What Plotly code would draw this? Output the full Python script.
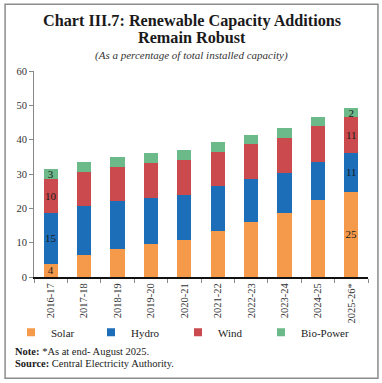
import plotly.graph_objects as go

years = ["2016-17", "2017-18", "2018-19", "2019-20", "2020-21",
         "2021-22", "2022-23", "2023-24", "2024-25", "2025-26*"]
solar = [3.9, 6.3, 8.1, 9.5, 10.7, 13.4, 15.9, 18.5, 22.3, 24.9]
hydro = [14.8, 14.4, 13.9, 13.6, 13.3, 13.0, 12.7, 11.7, 11.1, 11.1]
wind = [9.8, 10.0, 10.0, 10.1, 10.2, 10.0, 10.2, 10.4, 10.5, 10.6]
bio = [2.9, 2.9, 2.9, 3.0, 2.9, 3.0, 2.6, 2.7, 2.6, 2.5]

solar_lbl = ["4", "", "", "", "", "", "", "", "", "25"]
hydro_lbl = ["15", "", "", "", "", "", "", "", "", "11"]
wind_lbl = ["10", "", "", "", "", "", "", "", "", "11"]
bio_lbl = ["3", "", "", "", "", "", "", "", "", "2"]

y_ticks = [0, 10, 20, 30, 40, 50, 60]

series = [
    ("Solar", solar, solar_lbl, "#F5994A"),
    ("Hydro", hydro, hydro_lbl, "#1C6EB9"),
    ("Wind", wind, wind_lbl, "#CB4A4D"),
    ("Bio-Power", bio, bio_lbl, "#6CB98A"),
]

SERIF = "Liberation Serif"

# plot area in pixels: left 33, right 368, top 70.7, bottom 276.7
L, R, T, B = 33, 368, 70.7, 276.7
W, H = R - L, B - T


def px(x):
    return (x - L) / W


def py(y):
    return (B - y) / H


legend_x_px = [11, 91, 178, 261]
legend_ids = ["legend", "legend2", "legend3", "legend4"]

fig = go.Figure()
for (name, vals, lbl, col), lid in zip(series, legend_ids):
    fig.add_trace(go.Bar(
        x=years, y=vals, name=name, marker=dict(color=col, line=dict(width=0)),
        text=lbl, textposition="inside", insidetextanchor="middle",
        constraintext="none", textangle=0,
        textfont=dict(family=SERIF, size=11, color="#1a1a1a"),
        hoverinfo="x+y+name", showlegend=False,
    ))
    # legend key (small square)
    fig.add_trace(go.Scatter(
        x=[None], y=[None], mode="markers", name=name, legend=lid,
        marker=dict(symbol="square", size=8, color=col),
        showlegend=True, hoverinfo="skip",
    ))

legend_common = dict(
    orientation="h", yanchor="middle", xanchor="left", y=py(332),
    font=dict(family=SERIF, size=11, color="#222222"),
    bgcolor="rgba(0,0,0,0)", itemclick=False, itemwidth=30,
)

layout_legends = {}
for lid, lx in zip(legend_ids, legend_x_px):
    layout_legends[lid] = dict(legend_common, x=px(lx))

fig.update_layout(
    width=382, height=383,
    barmode="stack", bargap=0.58,
    margin=dict(l=L, r=382 - R, t=T, b=383 - B, pad=0),
    paper_bgcolor="white", plot_bgcolor="white",
    font=dict(family=SERIF, size=10, color="#333333"),
    showlegend=True,
    xaxis=dict(
        type="category", tickangle=-90, showgrid=False, zeroline=False,
        showline=True, linecolor="#111111", linewidth=2,
        ticks="outside", tickson="boundaries", ticklen=4, tickcolor="#888888",
        tickfont=dict(family=SERIF, size=10.5, color="#333333"),
        fixedrange=True,
    ),
    yaxis=dict(
        range=[0, 60], tickvals=y_ticks, showgrid=False, zeroline=False,
        showline=True, linecolor="#888888", linewidth=1,
        ticks="outside", ticklen=4, tickcolor="#888888",
        tickfont=dict(family=SERIF, size=10.5, color="#333333"),
        fixedrange=True,
    ),
    shapes=[dict(
        type="rect", xref="paper", yref="paper",
        x0=px(4), x1=px(378), y0=py(378), y1=py(4),
        line=dict(color="#8c8c8c", width=1.5), fillcolor="rgba(0,0,0,0)",
        layer="above",
    )],
    annotations=[
        dict(text="<b>Chart III.7: Renewable Capacity Additions</b>",
             xref="paper", yref="paper", x=px(191), y=py(20.5), xanchor="center",
             yanchor="middle", showarrow=False,
             font=dict(family=SERIF, size=16.2, color="#1a1a1a")),
        dict(text="<b>Remain Robust</b>",
             xref="paper", yref="paper", x=px(191), y=py(38), xanchor="center",
             yanchor="middle", showarrow=False,
             font=dict(family=SERIF, size=16.2, color="#1a1a1a")),
        dict(text="<i>(As a percentage of total installed capacity)</i>",
             xref="paper", yref="paper", x=px(191), y=py(55), xanchor="center",
             yanchor="middle", showarrow=False,
             font=dict(family=SERIF, size=11, color="#333333")),
        dict(text="<b>Note:</b> *As at end- August 2025.",
             xref="paper", yref="paper", x=px(12), y=py(351), xanchor="left",
             yanchor="middle", showarrow=False,
             font=dict(family=SERIF, size=10.5, color="#1a1a1a")),
        dict(text="<b>Source:</b> Central Electricity Authority.",
             xref="paper", yref="paper", x=px(12), y=py(363), xanchor="left",
             yanchor="middle", showarrow=False,
             font=dict(family=SERIF, size=10.5, color="#1a1a1a")),
    ],
    **layout_legends,
)

fig.write_html("out.html", config={"displayModeBar": False},
               post_script="document.body.style.margin='0';")
